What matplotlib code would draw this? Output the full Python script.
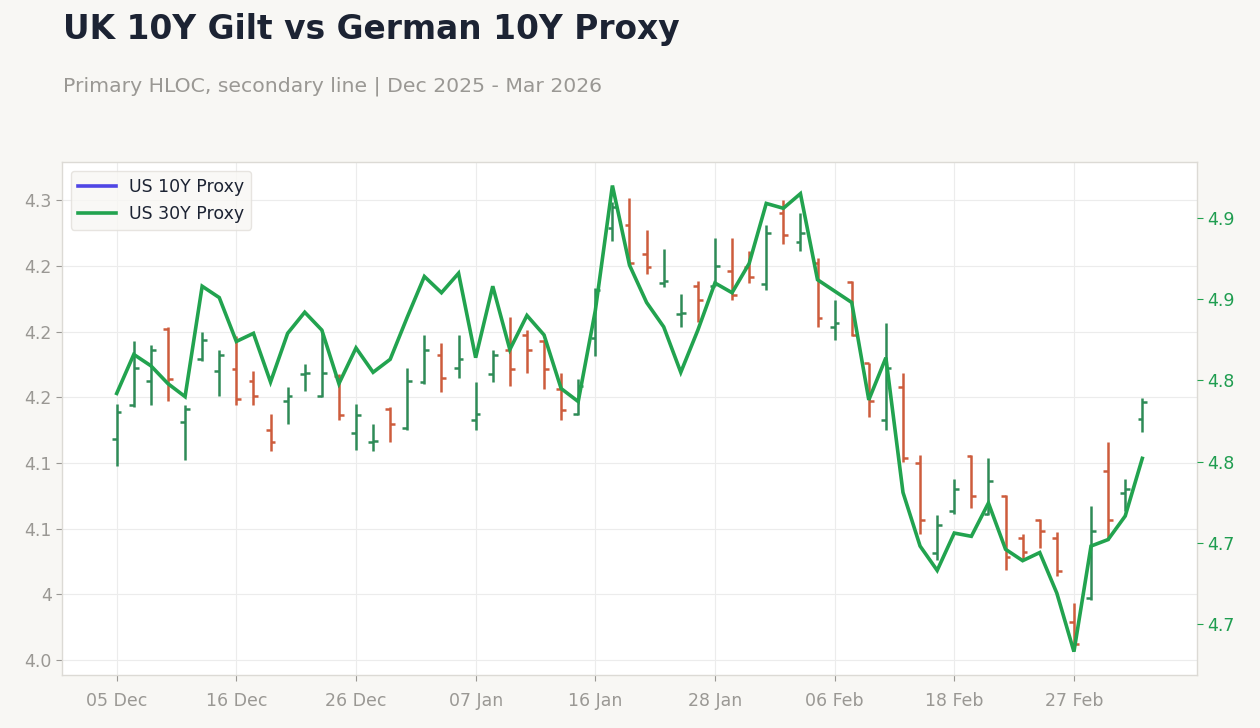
import matplotlib
matplotlib.use("Agg")
import matplotlib.pyplot as plt
from matplotlib.lines import Line2D
from datetime import datetime

# ---------------- data ----------------
dates = [
    "2025-12-05", "2025-12-08", "2025-12-09", "2025-12-10", "2025-12-11", "2025-12-12",
    "2025-12-15", "2025-12-16", "2025-12-17", "2025-12-18", "2025-12-19", "2025-12-22",
    "2025-12-23", "2025-12-24", "2025-12-26", "2025-12-29", "2025-12-30", "2025-12-31",
    "2026-01-02", "2026-01-05", "2026-01-06", "2026-01-07", "2026-01-08", "2026-01-09",
    "2026-01-12", "2026-01-13", "2026-01-14", "2026-01-15", "2026-01-16", "2026-01-20",
    "2026-01-21", "2026-01-22", "2026-01-23", "2026-01-26", "2026-01-27", "2026-01-28",
    "2026-01-29", "2026-01-30", "2026-02-02", "2026-02-03", "2026-02-04", "2026-02-05",
    "2026-02-06", "2026-02-09", "2026-02-10", "2026-02-11", "2026-02-12", "2026-02-13",
    "2026-02-17", "2026-02-18", "2026-02-19", "2026-02-20", "2026-02-23", "2026-02-24",
    "2026-02-25", "2026-02-26", "2026-02-27", "2026-03-02", "2026-03-03", "2026-03-04",
    "2026-03-05",
]

opens = [
    4.1345, 4.155, 4.170, 4.2015, 4.145, 4.183, 4.176, 4.177, 4.170, 4.140,
    4.158, 4.174, 4.161, 4.173, 4.138, 4.1325, 4.153, 4.141, 4.169, 4.186,
    4.178, 4.146, 4.174, 4.189, 4.198, 4.194, 4.165, 4.150, 4.196, 4.263,
    4.265, 4.247, 4.2295, 4.2105, 4.228, 4.228, 4.237, 4.239, 4.229, 4.272,
    4.2545, 4.242, 4.203, 4.230, 4.181, 4.146, 4.166, 4.120, 4.065, 4.091,
    4.124, 4.089, 4.100, 4.074, 4.085, 4.074, 4.023, 4.038, 4.115, 4.102,
    4.147,
]
highs = [
    4.156, 4.194, 4.192, 4.203, 4.155, 4.200, 4.189, 4.197, 4.176, 4.150,
    4.166, 4.180, 4.201, 4.174, 4.156, 4.144, 4.154, 4.178, 4.198, 4.193,
    4.198, 4.169, 4.189, 4.209, 4.201, 4.195, 4.175, 4.171, 4.2265, 4.279,
    4.281, 4.262, 4.250, 4.223, 4.231, 4.257, 4.257, 4.249, 4.265, 4.280,
    4.272, 4.245, 4.219, 4.231, 4.181, 4.205, 4.175, 4.125, 4.088, 4.110,
    4.125, 4.123, 4.1005, 4.077, 4.086, 4.078, 4.035, 4.094, 4.133, 4.110,
    4.1595,
]
lows = [
    4.118, 4.154, 4.155, 4.158, 4.122, 4.182, 4.161, 4.155, 4.155, 4.127,
    4.144, 4.164, 4.160, 4.146, 4.128, 4.127, 4.133, 4.140, 4.168, 4.163,
    4.172, 4.140, 4.169, 4.167, 4.175, 4.165, 4.146, 4.149, 4.185, 4.255,
    4.242, 4.235, 4.227, 4.203, 4.206, 4.228, 4.219, 4.2295, 4.225, 4.253,
    4.249, 4.203, 4.195, 4.197, 4.148, 4.140, 4.1205, 4.077, 4.061, 4.089,
    4.0925, 4.088, 4.055, 4.061, 4.068, 4.051, 4.008, 4.0365, 4.073, 4.091,
    4.139,
]
closes = [
    4.151, 4.178, 4.189, 4.171, 4.153, 4.195, 4.186, 4.159, 4.161, 4.133,
    4.161, 4.175, 4.175, 4.149, 4.149, 4.1335, 4.144, 4.170, 4.189, 4.172,
    4.183, 4.150, 4.186, 4.177, 4.189, 4.177, 4.152, 4.167, 4.225, 4.276,
    4.242, 4.239, 4.231, 4.2115, 4.219, 4.240, 4.222, 4.233, 4.260, 4.259,
    4.260, 4.208, 4.205, 4.198, 4.158, 4.178, 4.123, 4.085, 4.082, 4.104,
    4.100, 4.109, 4.063, 4.066, 4.0785, 4.054, 4.010, 4.0785, 4.085, 4.104,
    4.157,
]
line_vals = [
    4.792, 4.816, 4.809, 4.798, 4.790, 4.858, 4.851, 4.824, 4.829, 4.799,
    4.829, 4.842, 4.831, 4.798, 4.820, 4.805, 4.813, 4.839, 4.864, 4.854,
    4.866, 4.814, 4.858, 4.819, 4.840, 4.828, 4.795, 4.787, 4.843, 4.920,
    4.871, 4.848, 4.833, 4.805, 4.831, 4.860, 4.854, 4.872, 4.909, 4.906,
    4.915, 4.862, 4.855, 4.848, 4.788, 4.814, 4.731, 4.698, 4.683, 4.706,
    4.704, 4.7245, 4.696, 4.689, 4.694, 4.669, 4.633, 4.698, 4.702, 4.7165,
    4.752,
]

left_ticks = [4.00, 4.04, 4.08, 4.12, 4.16, 4.20, 4.24, 4.28]
left_labels = ["4.0", "4", "4.1", "4.1", "4.2", "4.2", "4.2", "4.3"]
right_ticks = [4.65, 4.70, 4.75, 4.80, 4.85, 4.90]
right_labels = ["4.7", "4.7", "4.8", "4.8", "4.9", "4.9"]

series_names = ["US 10Y Proxy", "US 30Y Proxy"]
title = "UK 10Y Gilt vs German 10Y Proxy"
subtitle = "Primary HLOC, secondary line | Dec 2025 - Mar 2026"

# ---------------- style ----------------
BG = "#f8f7f4"
UP = "#2e8b57"
DOWN = "#cd5c3c"
LINE = "#22a34f"
LEGEND_10Y = "#4f46e5"
GRID = "#ececec"
SPINE = "#dcdad5"
TICK_TXT = "#9a9894"

plt.rcParams["font.family"] = ["DejaVu Sans"]

fig = plt.figure(figsize=(12.6, 7.28), dpi=100, facecolor=BG)
ax = fig.add_axes([62 / 1260, 1 - 675 / 728, (1197 - 62) / 1260, (675 - 162) / 728])
ax.set_facecolor("white")

x = list(range(len(dates)))
colors = [UP if c >= o else DOWN for o, c in zip(opens, closes)]
tick_w = 0.28

ax.vlines(x, lows, highs, colors=colors, linewidth=1.8, zorder=3)
ax.hlines(opens, [xi - tick_w for xi in x], x, colors=colors, linewidth=1.8, zorder=3)
ax.hlines(closes, x, [xi + tick_w for xi in x], colors=colors, linewidth=1.8, zorder=3)

ax.set_xlim(-3.2, 63.2)
ax.set_ylim(3.9909, 4.3032)
ax.set_yticks(left_ticks)
ax.set_yticklabels(left_labels)

date_objs = [datetime.strptime(d, "%Y-%m-%d") for d in dates]
xt = list(range(0, len(dates), 7))
ax.set_xticks(xt)
ax.set_xticklabels([date_objs[i].strftime("%d %b") for i in xt])

ax.grid(True, color=GRID, linewidth=0.8, zorder=0)
ax.set_axisbelow(True)
for s in ax.spines.values():
    s.set_color(SPINE)
    s.set_linewidth(1.0)
ax.tick_params(axis="both", colors=TICK_TXT, labelsize=12.5, length=4, width=0.8)
ax.tick_params(axis="x", pad=8)

ax2 = ax.twinx()
ax2.plot(x, line_vals, color=LINE, linewidth=2.6, zorder=4, solid_joinstyle="miter")
ax2.set_ylim(4.6186, 4.9345)
ax2.set_yticks(right_ticks)
ax2.set_yticklabels(right_labels)
ax2.tick_params(axis="y", colors=LINE, labelsize=12.5, length=4, width=0.8)
ax2.tick_params(axis="y", labelcolor="#1f9d50")
for s in ax2.spines.values():
    s.set_visible(False)

handles = [
    Line2D([0], [0], color=LEGEND_10Y, linewidth=2.6),
    Line2D([0], [0], color=LINE, linewidth=2.6),
]
leg = ax2.legend(handles, series_names, loc="upper left", fontsize=12.5,
                 frameon=True, facecolor=BG, edgecolor="#e2dfda",
                 borderpad=0.42, labelspacing=0.48, handlelength=2.2,
                 handletextpad=0.7, borderaxespad=0,
                 bbox_to_anchor=(0.0079, 0.9825))
for t in leg.get_texts():
    t.set_color("#1c2333")

fig.text(63 / 1260, 1 - 30 / 728, title, fontsize=23.7, fontweight="bold",
         color="#1c2333", va="center", ha="left")
fig.text(63 / 1260, 1 - 86 / 728, subtitle, fontsize=14.7,
         color="#9a9894", va="center", ha="left")

fig.savefig("out.png", dpi=100, facecolor=BG)
